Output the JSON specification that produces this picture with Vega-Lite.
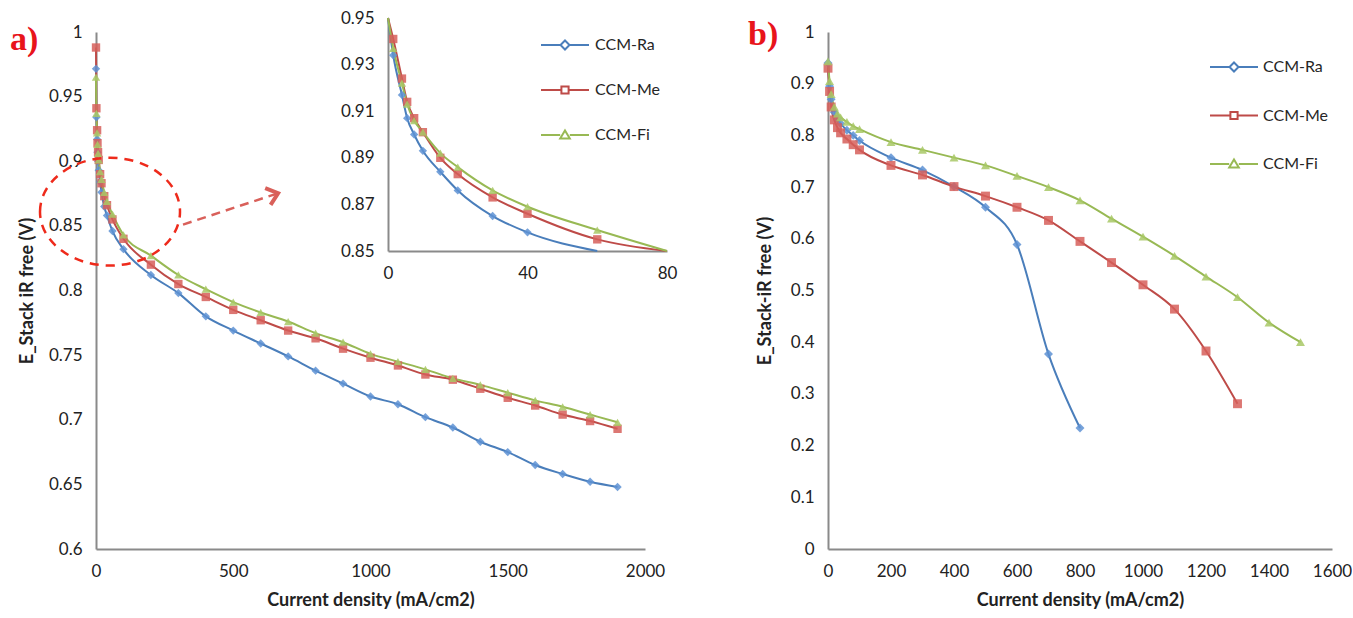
{
  "$schema": "https://vega.github.io/schema/vega-lite/v6.json",
  "autosize": {"type": "pad"},
  "padding": {"left": 10, "top": 9, "right": 0, "bottom": 0},
  "background": "white",
  "bounds": "flush",
  "spacing": 183,
  "datasets": {
    "a": [
      {"s":"CCM-Ra","j":0,"v":0.9715},{"s":"CCM-Ra","j":1.5,"v":0.934},{"s":"CCM-Ra","j":4,"v":0.917},{"s":"CCM-Ra","j":5.5,"v":0.907},{"s":"CCM-Ra","j":7.5,"v":0.900},{"s":"CCM-Ra","j":10,"v":0.893},{"s":"CCM-Ra","j":15,"v":0.884},{"s":"CCM-Ra","j":20,"v":0.876},{"s":"CCM-Ra","j":30,"v":0.865},{"s":"CCM-Ra","j":40,"v":0.858},{"s":"CCM-Ra","j":60,"v":0.846},{"s":"CCM-Ra","j":100,"v":0.832},
      {"s":"CCM-Ra","j":200,"v":0.812},{"s":"CCM-Ra","j":300,"v":0.798},{"s":"CCM-Ra","j":400,"v":0.780},{"s":"CCM-Ra","j":500,"v":0.769},{"s":"CCM-Ra","j":600,"v":0.759},{"s":"CCM-Ra","j":700,"v":0.749},{"s":"CCM-Ra","j":800,"v":0.738},{"s":"CCM-Ra","j":900,"v":0.728},{"s":"CCM-Ra","j":1000,"v":0.718},{"s":"CCM-Ra","j":1100,"v":0.712},{"s":"CCM-Ra","j":1200,"v":0.702},{"s":"CCM-Ra","j":1300,"v":0.694},{"s":"CCM-Ra","j":1400,"v":0.683},{"s":"CCM-Ra","j":1500,"v":0.675},{"s":"CCM-Ra","j":1600,"v":0.665},{"s":"CCM-Ra","j":1700,"v":0.658},{"s":"CCM-Ra","j":1800,"v":0.652},{"s":"CCM-Ra","j":1900,"v":0.648},
      {"s":"CCM-Me","j":0,"v":0.988},{"s":"CCM-Me","j":1.5,"v":0.941},{"s":"CCM-Me","j":4,"v":0.924},{"s":"CCM-Me","j":5.5,"v":0.914},{"s":"CCM-Me","j":7.5,"v":0.907},{"s":"CCM-Me","j":10,"v":0.901},{"s":"CCM-Me","j":15,"v":0.890},{"s":"CCM-Me","j":20,"v":0.883},{"s":"CCM-Me","j":30,"v":0.873},{"s":"CCM-Me","j":40,"v":0.866},{"s":"CCM-Me","j":60,"v":0.855},{"s":"CCM-Me","j":100,"v":0.840},
      {"s":"CCM-Me","j":200,"v":0.820},{"s":"CCM-Me","j":300,"v":0.805},{"s":"CCM-Me","j":400,"v":0.795},{"s":"CCM-Me","j":500,"v":0.785},{"s":"CCM-Me","j":600,"v":0.777},{"s":"CCM-Me","j":700,"v":0.769},{"s":"CCM-Me","j":800,"v":0.763},{"s":"CCM-Me","j":900,"v":0.755},{"s":"CCM-Me","j":1000,"v":0.748},{"s":"CCM-Me","j":1100,"v":0.742},{"s":"CCM-Me","j":1200,"v":0.735},{"s":"CCM-Me","j":1300,"v":0.731},{"s":"CCM-Me","j":1400,"v":0.724},{"s":"CCM-Me","j":1500,"v":0.717},{"s":"CCM-Me","j":1600,"v":0.711},{"s":"CCM-Me","j":1700,"v":0.704},{"s":"CCM-Me","j":1800,"v":0.699},{"s":"CCM-Me","j":1900,"v":0.693},
      {"s":"CCM-Fi","j":0,"v":0.965},{"s":"CCM-Fi","j":1.5,"v":0.937},{"s":"CCM-Fi","j":4,"v":0.922},{"s":"CCM-Fi","j":5.5,"v":0.913},{"s":"CCM-Fi","j":7.5,"v":0.906},{"s":"CCM-Fi","j":10,"v":0.901},{"s":"CCM-Fi","j":15,"v":0.892},{"s":"CCM-Fi","j":20,"v":0.886},{"s":"CCM-Fi","j":30,"v":0.876},{"s":"CCM-Fi","j":40,"v":0.869},{"s":"CCM-Fi","j":60,"v":0.859},{"s":"CCM-Fi","j":100,"v":0.843},
      {"s":"CCM-Fi","j":200,"v":0.827},{"s":"CCM-Fi","j":300,"v":0.812},{"s":"CCM-Fi","j":400,"v":0.801},{"s":"CCM-Fi","j":500,"v":0.791},{"s":"CCM-Fi","j":600,"v":0.783},{"s":"CCM-Fi","j":700,"v":0.776},{"s":"CCM-Fi","j":800,"v":0.767},{"s":"CCM-Fi","j":900,"v":0.760},{"s":"CCM-Fi","j":1000,"v":0.751},{"s":"CCM-Fi","j":1100,"v":0.745},{"s":"CCM-Fi","j":1200,"v":0.739},{"s":"CCM-Fi","j":1300,"v":0.732},{"s":"CCM-Fi","j":1400,"v":0.727},{"s":"CCM-Fi","j":1500,"v":0.721},{"s":"CCM-Fi","j":1600,"v":0.715},{"s":"CCM-Fi","j":1700,"v":0.710},{"s":"CCM-Fi","j":1800,"v":0.704},{"s":"CCM-Fi","j":1900,"v":0.698}
    ],
    "b": [
      {"s":"CCM-Ra","j":0,"v":0.94},{"s":"CCM-Ra","j":5,"v":0.895},{"s":"CCM-Ra","j":10,"v":0.87},{"s":"CCM-Ra","j":20,"v":0.845},{"s":"CCM-Ra","j":30,"v":0.832},{"s":"CCM-Ra","j":40,"v":0.823},{"s":"CCM-Ra","j":60,"v":0.81},{"s":"CCM-Ra","j":80,"v":0.80},{"s":"CCM-Ra","j":100,"v":0.79},{"s":"CCM-Ra","j":200,"v":0.757},{"s":"CCM-Ra","j":300,"v":0.733},{"s":"CCM-Ra","j":400,"v":0.701},{"s":"CCM-Ra","j":500,"v":0.661},{"s":"CCM-Ra","j":600,"v":0.589},{"s":"CCM-Ra","j":700,"v":0.377},{"s":"CCM-Ra","j":800,"v":0.234},
      {"s":"CCM-Me","j":0,"v":0.93},{"s":"CCM-Me","j":5,"v":0.885},{"s":"CCM-Me","j":10,"v":0.855},{"s":"CCM-Me","j":20,"v":0.83},{"s":"CCM-Me","j":30,"v":0.815},{"s":"CCM-Me","j":40,"v":0.805},{"s":"CCM-Me","j":60,"v":0.793},{"s":"CCM-Me","j":80,"v":0.782},{"s":"CCM-Me","j":100,"v":0.772},{"s":"CCM-Me","j":200,"v":0.742},{"s":"CCM-Me","j":300,"v":0.7235},{"s":"CCM-Me","j":400,"v":0.701},{"s":"CCM-Me","j":500,"v":0.6826},{"s":"CCM-Me","j":600,"v":0.661},{"s":"CCM-Me","j":700,"v":0.6356},{"s":"CCM-Me","j":800,"v":0.595},{"s":"CCM-Me","j":900,"v":0.554},{"s":"CCM-Me","j":1000,"v":0.511},{"s":"CCM-Me","j":1100,"v":0.464},{"s":"CCM-Me","j":1200,"v":0.383},{"s":"CCM-Me","j":1300,"v":0.281},
      {"s":"CCM-Fi","j":0,"v":0.943},{"s":"CCM-Fi","j":5,"v":0.905},{"s":"CCM-Fi","j":10,"v":0.88},{"s":"CCM-Fi","j":20,"v":0.855},{"s":"CCM-Fi","j":30,"v":0.842},{"s":"CCM-Fi","j":40,"v":0.835},{"s":"CCM-Fi","j":60,"v":0.826},{"s":"CCM-Fi","j":80,"v":0.818},{"s":"CCM-Fi","j":100,"v":0.812},{"s":"CCM-Fi","j":200,"v":0.787},{"s":"CCM-Fi","j":300,"v":0.772},{"s":"CCM-Fi","j":400,"v":0.757},{"s":"CCM-Fi","j":500,"v":0.742},{"s":"CCM-Fi","j":600,"v":0.7215},{"s":"CCM-Fi","j":700,"v":0.70},{"s":"CCM-Fi","j":800,"v":0.6745},{"s":"CCM-Fi","j":900,"v":0.639},{"s":"CCM-Fi","j":1000,"v":0.604},{"s":"CCM-Fi","j":1100,"v":0.567},{"s":"CCM-Fi","j":1200,"v":0.527},{"s":"CCM-Fi","j":1300,"v":0.487},{"s":"CCM-Fi","j":1400,"v":0.438},{"s":"CCM-Fi","j":1500,"v":0.40}
    ],
    "ellipse": [{"j": 51, "v": 0.861}],
    "arrow": [{"j": 317, "v": 0.851, "j2": 660, "v2": 0.875}]
  },
  "resolve": {"scale": {"stroke": "independent", "fill": "independent", "shape": "independent"}, "legend": {"stroke": "independent", "fill": "independent", "shape": "independent"}},
  "hconcat": [
    {
      "width": 549,
      "height": 517,
      "title": {"text": "a)", "anchor": "start", "frame": "group", "color": "#E8141B", "font": "Liberation Serif", "fontSize": 34, "fontWeight": "bold", "dx": -86, "dy": 48, "offset": 0},
      "resolve": {"scale": {"x": "independent", "y": "independent"}},
      "layer": [
        {
          "layer": [
            {
              "data": {"name": "a"},
              "mark": {"type": "line", "interpolate": "monotone", "strokeWidth": 2},
              "encoding": {
                "x": {"field": "j", "type": "quantitative", "scale": {"domain": [0, 2000]}, "axis": {"values": [0, 500, 1000, 1500, 2000], "format": "d", "title": "Current density (mA/cm2)"}},
                "y": {"field": "v", "type": "quantitative", "scale": {"domain": [0.6, 1]}, "axis": {"values": [0.6, 0.65, 0.7, 0.75, 0.8, 0.85, 0.9, 0.95, 1], "format": ".2~f", "title": "E_Stack iR free (V)", "titlePadding": 12}},
                "stroke": {"field": "s", "type": "nominal", "scale": {"domain": ["CCM-Ra", "CCM-Me", "CCM-Fi"], "range": ["#4A7EBB", "#BE4B48", "#98B954"]},
                  "legend": {"title": null, "orient": "none", "legendX": 461, "legendY": 5, "padding": 0, "symbolSize": 144, "symbolStrokeWidth": 2, "labelOffset": 22, "rowPadding": 28, "labelFont": "Lato", "labelFontSize": 16, "labelColor": "#262626",
                    "encode": {"symbols": {"update": {"fill": {"value": "#ffffff"}, "strokeWidth": {"value": 2}, "shape": {"signal": "datum.value == 'CCM-Ra' ? 'M-4,0H-0.75M0.75,0H4M0,-0.75L0.75,0L0,0.75L-0.75,0Z' : datum.value == 'CCM-Me' ? 'M-4,0H-0.6M0.6,0H4M-0.6,-0.6H0.6V0.6H-0.6Z' : 'M-4,0H-0.8M0.8,0H4M0,-0.75L0.8,0.6H-0.8Z'"}}}}}}
              }
            },
            {
              "data": {"name": "a"},
              "mark": {"type": "point", "filled": true, "size": 70, "opacity": 0.85},
              "encoding": {
                "x": {"field": "j", "type": "quantitative"},
                "y": {"field": "v", "type": "quantitative"},
                "fill": {"field": "s", "type": "nominal", "scale": {"domain": ["CCM-Fi", "CCM-Me", "CCM-Ra"], "range": ["#A8C866", "#D65F5B", "#5E92D4"]}, "legend": null},
                "shape": {"field": "s", "type": "nominal", "scale": {"domain": ["CCM-Fi", "CCM-Me", "CCM-Ra"], "range": ["triangle-up", "square", "diamond"]}, "legend": null}
              }
            },
            {
              "data": {"name": "ellipse"},
              "mark": {"type": "point", "filled": false, "shape": "M-1,0A1,0.77,0,1,1,1,0A1,0.77,0,1,1,-1,0Z", "size": 19600, "stroke": "#EE2A1B", "strokeWidth": 2.5, "strokeDash": [9, 7], "opacity": 1},
              "encoding": {
                "x": {"field": "j", "type": "quantitative"},
                "y": {"field": "v", "type": "quantitative"}
              }
            },
            {
              "data": {"name": "arrow"},
              "mark": {"type": "rule", "stroke": "#D9605A", "strokeWidth": 2.5, "strokeDash": [9, 6]},
              "encoding": {
                "x": {"field": "j", "type": "quantitative"},
                "y": {"field": "v", "type": "quantitative"},
                "x2": {"field": "j2"},
                "y2": {"field": "v2"}
              }
            },
            {
              "data": {"name": "arrow"},
              "mark": {"type": "point", "filled": false, "shape": "M-1,-0.9L0.1,0L-1,0.9", "size": 380, "stroke": "#D9605A", "strokeWidth": 4, "angle": -18, "opacity": 1},
              "encoding": {
                "x": {"field": "j2", "type": "quantitative"},
                "y": {"field": "v2", "type": "quantitative"}
              }
            }
          ]
        },
        {
          "layer": [
            {
              "data": {"name": "a"},
              "transform": [{"filter": "datum.j <= 100 && (datum.s != 'CCM-Ra' || datum.j <= 60)"}],
              "mark": {"type": "line", "interpolate": "monotone", "strokeWidth": 2},
              "encoding": {
                "x": {"field": "j", "type": "quantitative", "scale": {"domain": [0, 80], "range": [292, 571], "clamp": true}, "axis": {"orient": "bottom", "offset": -298, "values": [0, 40, 80], "title": null}},
                "y": {"field": "v", "type": "quantitative", "scale": {"domain": [0.85, 0.95], "range": [219, -14], "clamp": true}, "axis": {"orient": "left", "offset": -292, "values": [0.85, 0.87, 0.89, 0.91, 0.93, 0.95], "format": ".2f", "title": null}},
                "stroke": {"field": "s", "type": "nominal", "legend": null}
              }
            },
            {
              "data": {"name": "a"},
              "transform": [{"filter": "datum.j > 0 && datum.j <= 60 && datum.v >= 0.85 && datum.v <= 0.95"}],
              "mark": {"type": "point", "filled": true, "size": 70, "opacity": 0.85},
              "encoding": {
                "x": {"field": "j", "type": "quantitative"},
                "y": {"field": "v", "type": "quantitative"},
                "fill": {"field": "s", "type": "nominal", "legend": null},
                "shape": {"field": "s", "type": "nominal", "legend": null}
              }
            }
          ]
        }
      ]
    },
    {
      "width": 504,
      "height": 517,
      "title": {"text": "b)", "anchor": "start", "frame": "group", "color": "#E8141B", "font": "Liberation Serif", "fontSize": 34, "fontWeight": "bold", "dx": -80, "dy": 29, "offset": 0},
      "data": {"name": "b"},
      "layer": [
        {
          "mark": {"type": "line", "interpolate": "monotone", "strokeWidth": 2},
          "encoding": {
            "x": {"field": "j", "type": "quantitative", "scale": {"domain": [0, 1600]}, "axis": {"values": [0, 200, 400, 600, 800, 1000, 1200, 1400, 1600], "format": "d", "title": "Current density (mA/cm2)"}},
            "y": {"field": "v", "type": "quantitative", "scale": {"domain": [0, 1]}, "axis": {"values": [0, 0.1, 0.2, 0.3, 0.4, 0.5, 0.6, 0.7, 0.8, 0.9, 1], "format": ".1~f", "title": "E_Stack-iR free (V)", "titlePadding": 16}},
            "stroke": {"field": "s", "type": "nominal", "scale": {"domain": ["CCM-Ra", "CCM-Me", "CCM-Fi"], "range": ["#4A7EBB", "#BE4B48", "#98B954"]},
              "legend": {"title": null, "orient": "none", "legendX": 398, "legendY": 27, "padding": 0, "symbolSize": 144, "symbolStrokeWidth": 2, "labelOffset": 21, "rowPadding": 31.5, "labelFont": "Lato", "labelFontSize": 16, "labelColor": "#262626",
                "encode": {"symbols": {"update": {"fill": {"value": "#ffffff"}, "strokeWidth": {"value": 2}, "shape": {"signal": "datum.value == 'CCM-Ra' ? 'M-4,0H-0.75M0.75,0H4M0,-0.75L0.75,0L0,0.75L-0.75,0Z' : datum.value == 'CCM-Me' ? 'M-4,0H-0.6M0.6,0H4M-0.6,-0.6H0.6V0.6H-0.6Z' : 'M-4,0H-0.8M0.8,0H4M0,-0.75L0.8,0.6H-0.8Z'"}}}}}}
          }
        },
        {
          "mark": {"type": "point", "filled": true, "size": 80, "opacity": 0.85},
          "encoding": {
            "x": {"field": "j", "type": "quantitative"},
            "y": {"field": "v", "type": "quantitative"},
            "fill": {"field": "s", "type": "nominal", "scale": {"domain": ["CCM-Fi", "CCM-Me", "CCM-Ra"], "range": ["#A8C866", "#D65F5B", "#5E92D4"]}, "legend": null},
            "shape": {"field": "s", "type": "nominal", "scale": {"domain": ["CCM-Fi", "CCM-Me", "CCM-Ra"], "range": ["triangle-up", "square", "diamond"]}, "legend": null}
          }
        }
      ]
    }
  ],
  "config": {
    "view": {"stroke": null},
    "axis": {"grid": false, "ticks": false, "domainColor": "#8A8A8A", "domainWidth": 2, "labelFont": "Lato", "labelFontSize": 17, "labelColor": "#222222", "labelPadding": 14, "labelFlush": false, "labelOverlap": false, "titleFont": "Lato", "titleFontSize": 18, "titleFontWeight": "bold", "titleColor": "#222222", "titlePadding": 12}
  }
}
